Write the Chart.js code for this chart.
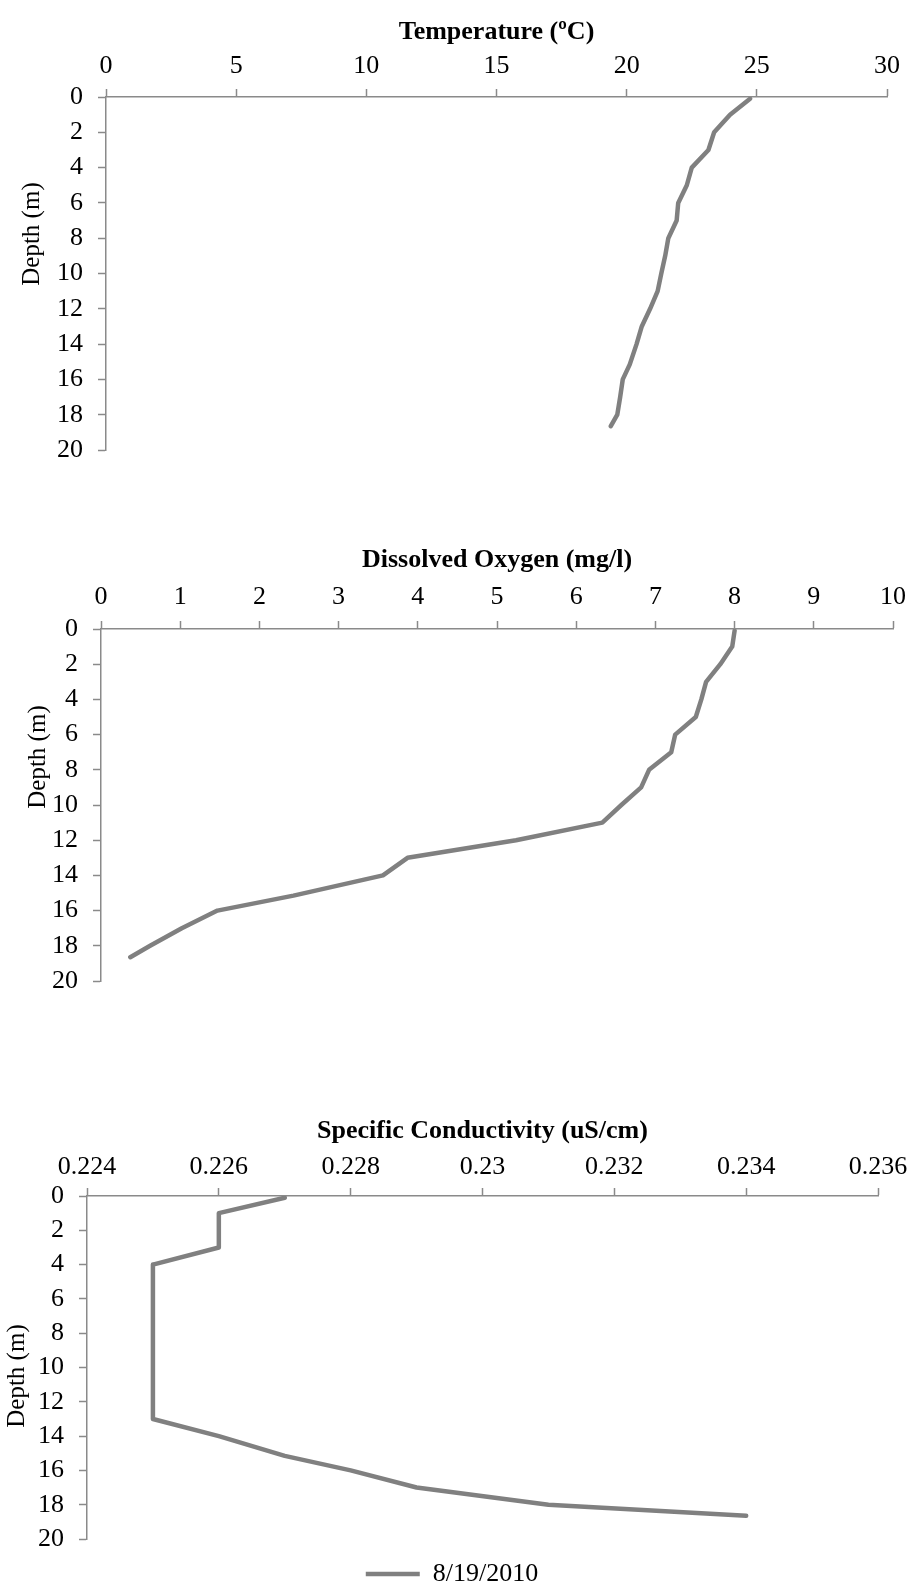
<!DOCTYPE html>
<html>
<head>
<meta charset="utf-8">
<script src="https://cdn.jsdelivr.net/npm/chart.js@4/dist/chart.umd.min.js"></script>
<style>
html,body{margin:0;padding:0;background:#fff;}
#page{position:relative;width:914px;height:1585px;overflow:hidden;background:#fff;}
canvas{position:absolute;left:0;}
</style>
</head>
<body>
<div id="page">
<canvas id="tempChart" width="914" height="500" style="top:0px"></canvas>
<canvas id="doChart" width="914" height="520" style="top:529px"></canvas>
<canvas id="condChart" width="914" height="502" style="top:1099px"></canvas>
</div>
<script>
// ---- data ----
const seriesLabel = '8/19/2010';
const depths = [0.1, 1, 2, 3, 4, 5, 6, 7, 8, 9, 10, 11, 12, 13, 14, 15.15, 16, 17, 18, 18.65];
const temperature = [24.74, 23.97, 23.36, 23.14, 22.50, 22.31, 21.98, 21.92, 21.60, 21.48, 21.33, 21.19, 20.90, 20.58, 20.38, 20.12, 19.85, 19.75, 19.64, 19.39];
const dissolvedOxygen = [8.00, 7.97, 7.82, 7.64, 7.58, 7.51, 7.25, 7.20, 6.92, 6.82, 6.57, 6.33, 5.24, 3.87, 3.56, 2.43, 1.47, 1.02, 0.62, 0.37];
const conductivity = [0.227, 0.226, 0.226, 0.226, 0.225, 0.225, 0.225, 0.225, 0.225, 0.225, 0.225, 0.225, 0.225, 0.225, 0.226, 0.227, 0.228, 0.229, 0.231, 0.234];

const depthTicks = ['0','2','4','6','8','10','12','14','16','18','20'];
const tempTicks = ['0','5','10','15','20','25','30'];
const doTicks = ['0','1','2','3','4','5','6','7','8','9','10'];
const condTicks = ['0.224','0.226','0.228','0.23','0.232','0.234','0.236'];

// ---- styling ----
const FONT = '"Liberation Serif", "Times New Roman", serif';
const lineColor = '#808080';
const axisColor = '#8a8a8a';
Chart.defaults.font.family = FONT;
Chart.defaults.color = '#000';

const depthTitlePlugin = {
  id: 'depthTitle',
  afterDraw(chart, args, opts) {
    const ctx = chart.ctx;
    ctx.save();
    ctx.translate(opts.x, opts.y);
    ctx.rotate(-Math.PI / 2);
    ctx.font = '25px ' + FONT;
    ctx.fillStyle = '#000';
    ctx.textAlign = 'center';
    ctx.textBaseline = 'middle';
    ctx.fillText(opts.text, 0, 0);
    ctx.restore();
  }
};

function tickSetter(labels) {
  return (scale) => { scale.ticks = labels.map(s => ({ value: parseFloat(s) })); };
}

function makeProfile(canvasId, g) {
  return new Chart(document.getElementById(canvasId), {
    type: 'line',
    data: {
      datasets: [{
        label: seriesLabel,
        data: depths.map((d, i) => ({ x: g.values[i], y: d })),
        borderColor: lineColor,
        backgroundColor: lineColor,
        borderWidth: 4.5,
        pointRadius: 0,
        pointHoverRadius: 0,
        pointStyle: 'line',
        tension: 0,
        borderCapStyle: 'round',
        borderJoinStyle: 'round',
        fill: false
      }]
    },
    options: {
      responsive: false,
      animation: false,
      devicePixelRatio: 1,
      events: [],
      layout: { padding: g.padding },
      plugins: {
        tooltip: { enabled: false },
        legend: g.legend ? {
          display: true,
          position: 'bottom',
          labels: {
            usePointStyle: true,
            pointStyleWidth: 54,
            padding: 22,
            color: '#000',
            font: { size: 26, family: FONT }
          }
        } : { display: false },
        depthTitle: { text: 'Depth (m)', x: g.yTitleX, y: g.yTitleY }
      },
      scales: {
        x: {
          type: 'linear',
          position: 'top',
          min: parseFloat(g.xTicks[0]),
          max: parseFloat(g.xTicks[g.xTicks.length - 1]),
          afterBuildTicks: tickSetter(g.xTicks),
          afterFit: (s) => { s.height = g.xHeight; },
          ticks: {
            callback: (v, i) => g.xTicks[i],
            font: { size: 26, family: FONT },
            color: '#000',
            padding: g.tickPad,
            maxRotation: 0,
            autoSkip: false
          },
          grid: { display: true, drawOnChartArea: false, drawTicks: true, tickLength: 8, tickColor: axisColor, tickWidth: 1.5 },
          border: { display: true, color: axisColor, width: 1.5 },
          title: {
            display: true,
            text: g.xTitle,
            font: { size: 26, weight: 'bold', family: FONT },
            color: '#000',
            padding: { top: g.titlePad, bottom: 0 }
          }
        },
        y: {
          type: 'linear',
          reverse: true,
          min: 0,
          max: 20,
          afterBuildTicks: tickSetter(depthTicks),
          afterFit: (s) => { s.width = g.yWidth; },
          ticks: {
            callback: (v, i) => depthTicks[i],
            font: { size: 26, family: FONT },
            color: '#000',
            padding: 15,
            autoSkip: false
          },
          grid: { display: true, drawOnChartArea: false, drawTicks: true, tickLength: 8, tickColor: axisColor, tickWidth: 1.5 },
          border: { display: true, color: axisColor, width: 1.5 }
        }
      }
    },
    plugins: [depthTitlePlugin]
  });
}

makeProfile('tempChart', {
  values: temperature, xTicks: tempTicks, xTitle: 'Temperature (ºC)',
  padding: { top: 0, left: 0, right: 27, bottom: 50 },
  xHeight: 97, yWidth: 106, yTitleX: 32, yTitleY: 234, legend: false,
  tickPad: 7, titlePad: 17
});
makeProfile('doChart', {
  values: dissolvedOxygen, xTicks: doTicks, xTitle: 'Dissolved Oxygen (mg/l)',
  padding: { top: 0, left: 0, right: 20, bottom: 68 },
  xHeight: 100, yWidth: 101, yTitleX: 38, yTitleY: 228, legend: false,
  tickPad: 8, titlePad: 16
});
makeProfile('condChart', {
  values: conductivity, xTicks: condTicks, xTitle: 'Specific Conductivity (uS/cm)',
  padding: { top: 0, left: 26, right: 36, bottom: 4 },
  xHeight: 97, yWidth: 61, yTitleX: 17, yTitleY: 277, legend: true,
  tickPad: 5, titlePad: 17
});
</script>
</body>
</html>
